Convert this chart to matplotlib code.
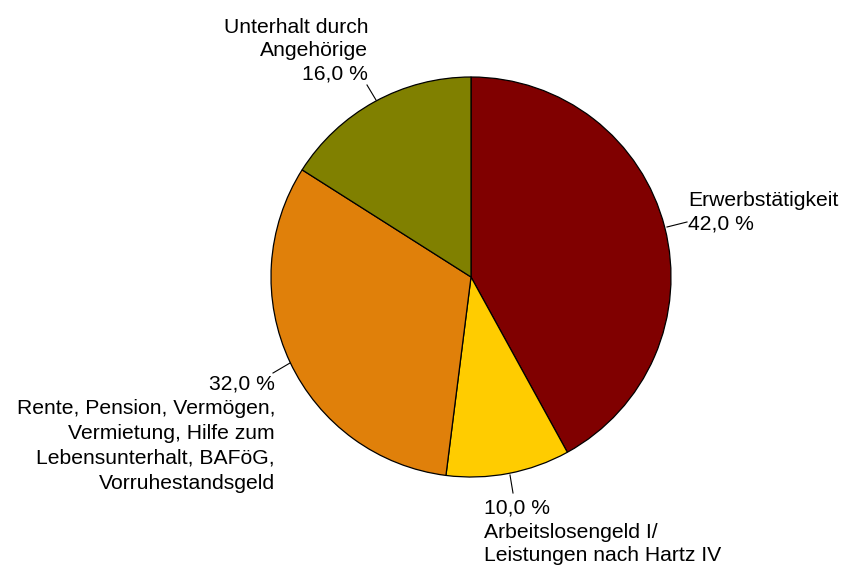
import matplotlib
matplotlib.use("Agg")
import matplotlib.pyplot as plt

plt.rcParams['font.family'] = ['Liberation Sans', 'DejaVu Sans']

# shares in percent, clockwise from 12 o'clock
labels = ["Erwerbstätigkeit",
          "Arbeitslosengeld I/\nLeistungen nach Hartz IV",
          "Rente, Pension, Vermögen,\nVermietung, Hilfe zum\nLebensunterhalt, BAFöG,\nVorruhestandsgeld",
          "Unterhalt durch\nAngehörige"]
values = [42.0, 10.0, 32.0, 16.0]
colors = ["#800000", "#FFCC00", "#E0800A", "#808000"]

W, H = 847, 567
fig = plt.figure(figsize=(W / 100, H / 100), dpi=100)
ax = fig.add_axes([0, 0, 1, 1])

cx, cy, r = 471, H - 277, 200
ax.pie(values, colors=colors, startangle=90, counterclock=False,
       center=(cx, cy), radius=r, frame=True,
       wedgeprops=dict(edgecolor="black", linewidth=0.9))
ax.set_xlim(0, W)
ax.set_ylim(0, H)
ax.set_aspect("equal")
ax.axis("off")

def fmt(v):
    return f"{v:.1f}".replace(".", ",") + " %"

fs = 15.2
ls = 1.3

# leader lines (image pixel coords, y from top)
def leader(x0, y0, x1, y1):
    ax.plot([x0, x1], [H - y0, H - y1], color="black", lw=0.8)

leader(376, 100, 367, 85)
ax.text(368, H - 18, labels[3] + "\n" + fmt(values[3]), ha="right", va="top",
        fontsize=fs, linespacing=ls)

leader(667, 227, 687, 222)
ax.text(688, H - 191, labels[0] + "\n" + fmt(values[0]), ha="left", va="top",
        fontsize=fs, linespacing=ls)

leader(510, 475, 513, 493)
ax.text(484, H - 499, fmt(values[1]) + "\n" + labels[1], ha="left", va="top",
        fontsize=fs, linespacing=ls)

leader(290, 363, 273, 373)
ax.text(275, H - 374, fmt(values[2]) + "\n" + labels[2], ha="right", va="top",
        fontsize=fs, linespacing=1.4)

fig.savefig("out.png", dpi=100)
